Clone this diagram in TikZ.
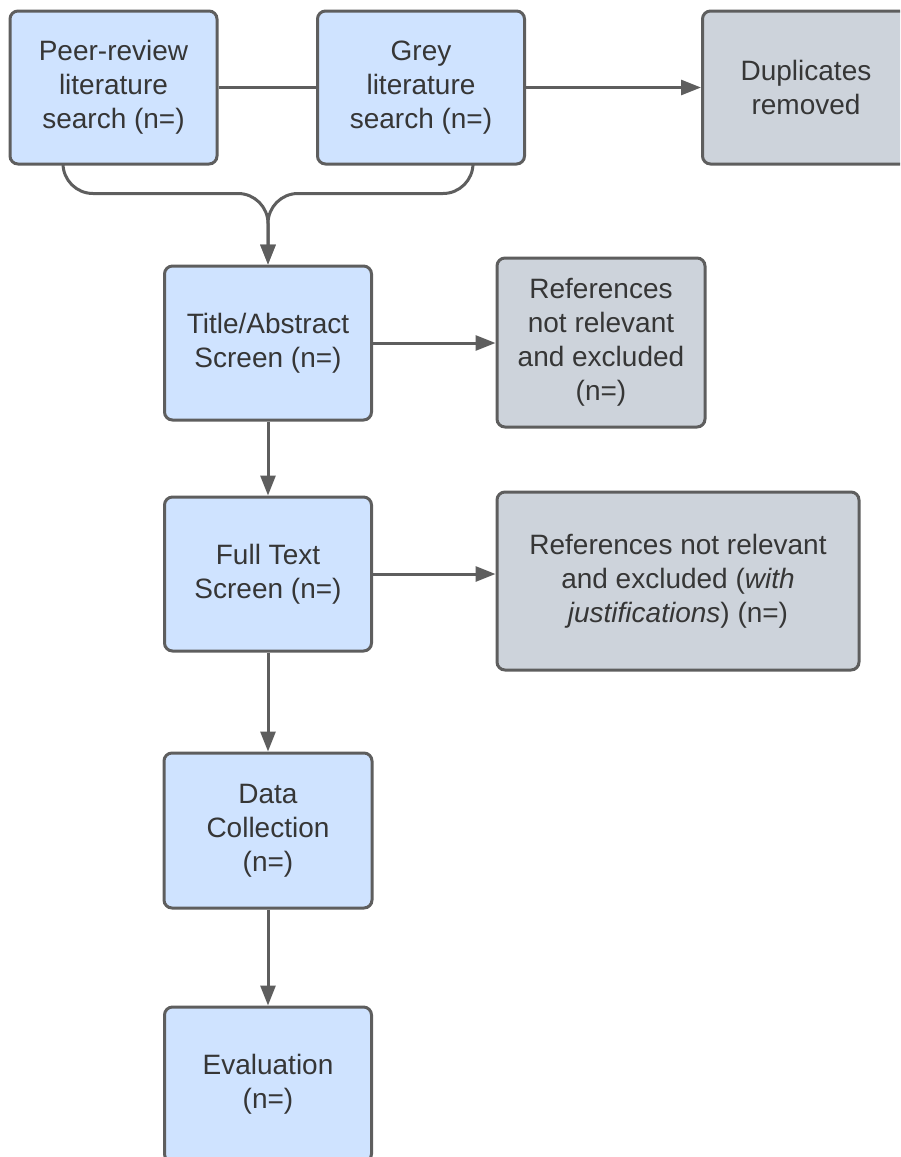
\documentclass[tikz,border=0pt]{standalone}
\usepackage{fontspec}
\setmainfont{Liberation Sans}
\usetikzlibrary{arrows.meta,positioning}
\definecolor{boxblue}{HTML}{CFE3FF}
\definecolor{boxgrey}{HTML}{CDD3DB}
\definecolor{edgegrey}{HTML}{5E5E5E}
\definecolor{inkgrey}{HTML}{363636}
\tikzset{
  box/.style={draw=edgegrey, line width=3pt, rounded corners=8pt,
    inner sep=0pt, align=center, text=inkgrey,
    font=\fontsize{28}{34}\selectfont},
  bluebox/.style={box, fill=boxblue},
  greybox/.style={box, fill=boxgrey},
  conn/.style={draw=edgegrey, line width=3pt},
  arr/.style={conn, -{Triangle[length=20pt,width=15pt]}},
}
\begin{document}
\begin{tikzpicture}[x=1pt,y=-1pt]
\useasboundingbox (0,0) rectangle (900,1157);
\clip (0,0) rectangle (900,1157);

% search sources
\node[bluebox, minimum width=207pt, minimum height=153pt] (peer) at (113.5,87.5)
  {Peer-review\\literature\\search (n=)};
\node[bluebox, minimum width=207pt, minimum height=153pt] (grey) at (421,87.5)
  {Grey\\literature\\search (n=)};
\node[greybox, minimum width=207pt, minimum height=153pt] (dup) at (806,87.5)
  {Duplicates\\removed};

% screening stages
\node[bluebox, minimum width=207pt, minimum height=154pt] (title) at (268,343)
  {Title/Abstract\\Screen (n=)};
\node[greybox, minimum width=208pt, minimum height=169pt] (ref1) at (601,342.5)
  {References\\not relevant\\and excluded\\(n=)};
\node[bluebox, minimum width=207pt, minimum height=154pt] (full) at (268,574)
  {Full Text\\Screen (n=)};
\node[greybox, minimum width=362pt, minimum height=178pt] (ref2) at (678,581)
  {References not relevant\\and excluded (\textit{with}\\\textit{justifications}) (n=)};
\node[bluebox, minimum width=208pt, minimum height=155pt] (data) at (268,830.5)
  {Data\\Collection\\(n=)};
\node[bluebox, minimum width=207pt, minimum height=155pt] (eval) at (268,1084.5)
  {Evaluation\\(n=)};

% connectors
\draw[conn] (peer.east) -- (grey.west);
\draw[arr] (grey.east) -- (dup.west);
\draw[arr, rounded corners=30pt] ([xshift=-50.5pt]peer.south) |- ([yshift=71pt]title.north) -- (title.north);
\draw[arr, rounded corners=30pt] ([xshift=52pt]grey.south) |- ([yshift=71pt]title.north) -- (title.north);
\draw[arr] (title.east) -- (ref1.west |- title.east);
\draw[arr] (full.east) -- (ref2.west |- full.east);
\draw[arr] (title.south) -- (full.north);
\draw[arr] (full.south) -- (data.north);
\draw[arr] (data.south) -- (eval.north);
\end{tikzpicture}
\end{document}
